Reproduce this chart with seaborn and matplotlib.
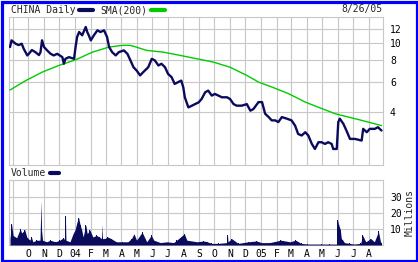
import numpy as np
import pandas as pd
import matplotlib
matplotlib.use("Agg")
import matplotlib.pyplot as plt
import matplotlib.ticker as mticker
from matplotlib.lines import Line2D
from matplotlib.patches import Rectangle
import seaborn as sns

# ---------------- data ----------------
price_dates = [
    "2003-08-26", "2003-08-29", "2003-09-06", "2003-09-12", "2003-09-18", "2003-09-22",
    "2003-09-29", "2003-10-02", "2003-10-08", "2003-10-15", "2003-10-22", "2003-10-25",
    "2003-10-28", "2003-11-01", "2003-11-07", "2003-11-14", "2003-11-20", "2003-11-27",
    "2003-12-07", "2003-12-10", "2003-12-13", "2003-12-20", "2003-12-30", "2004-01-02",
    "2004-01-05", "2004-01-09", "2004-01-15", "2004-01-22", "2004-01-25", "2004-01-28",
    "2004-02-01", "2004-02-07", "2004-02-14", "2004-02-20", "2004-02-27", "2004-03-04",
    "2004-03-08", "2004-03-14", "2004-03-21", "2004-03-27", "2004-04-06", "2004-04-13",
    "2004-04-19", "2004-04-25", "2004-05-01", "2004-05-08", "2004-05-14", "2004-05-24",
    "2004-05-31", "2004-06-06", "2004-06-13", "2004-06-19", "2004-06-26", "2004-07-02",
    "2004-07-09", "2004-07-15", "2004-07-22", "2004-07-28", "2004-08-01", "2004-08-04",
    "2004-08-11", "2004-08-18", "2004-08-24", "2004-08-31", "2004-09-06", "2004-09-13",
    "2004-09-19", "2004-09-26", "2004-10-02", "2004-10-09", "2004-10-16", "2004-10-26",
    "2004-11-01", "2004-11-08", "2004-11-14", "2004-11-24", "2004-12-04", "2004-12-11",
    "2004-12-17", "2004-12-27", "2005-01-03", "2005-01-09", "2005-01-16", "2005-01-22",
    "2005-01-29", "2005-02-04", "2005-02-11", "2005-02-21", "2005-03-02", "2005-03-09",
    "2005-03-15", "2005-03-22", "2005-03-29", "2005-04-04", "2005-04-11", "2005-04-17",
    "2005-04-24", "2005-04-30", "2005-05-07", "2005-05-13", "2005-05-20", "2005-05-23",
    "2005-05-30", "2005-06-02", "2005-06-05", "2005-06-12", "2005-06-18", "2005-06-25",
    "2005-07-05", "2005-07-18", "2005-07-21", "2005-07-28", "2005-08-03", "2005-08-13",
    "2005-08-19", "2005-08-26",
]
price_values = [
    9.46, 10.33, 9.88, 9.71, 9.88, 9.24,
    8.47, 8.65, 9.09, 8.84, 8.51, 8.84,
    10.33, 9.46, 9.05, 8.65, 8.47, 8.65,
    8.28, 7.59, 8.10, 8.28, 8.10, 9.46,
    10.79, 11.53, 11.04, 12.32, 11.53, 11.04,
    10.33, 11.04, 11.79, 11.53, 11.79, 10.79,
    9.46, 8.84, 8.47, 8.84, 9.05, 8.65,
    7.93, 7.25, 6.95, 6.51, 6.79, 7.25,
    8.10, 7.93, 7.42, 7.59, 7.25, 6.64,
    6.36, 5.82, 5.96, 6.08, 5.56, 4.88,
    4.27, 4.37, 4.46, 4.56, 4.77, 5.21,
    5.33, 4.99, 5.10, 4.99, 4.88, 4.88,
    4.77, 4.46, 4.37, 4.37, 4.46, 4.09,
    4.18, 4.58, 4.58, 3.93, 3.76, 3.60,
    3.60, 3.52, 3.76, 3.68, 3.60, 3.36,
    3.01, 2.95, 3.08, 2.95, 2.64, 2.47,
    2.70, 2.70, 2.64, 2.70, 2.64, 2.47,
    2.47, 3.52, 3.68, 3.44, 3.15, 2.82,
    2.82, 2.76, 3.22, 3.08, 3.22, 3.22,
    3.29, 3.15,
]

sma_dates = [
    "2003-08-26", "2003-09-26", "2003-10-28", "2003-11-30", "2004-01-02", "2004-02-04",
    "2004-03-08", "2004-04-03", "2004-04-18", "2004-04-26", "2004-05-21", "2004-06-23",
    "2004-07-26", "2004-08-28", "2004-09-29", "2004-11-01", "2004-12-04", "2004-12-27",
    "2005-01-22", "2005-02-24", "2005-03-29", "2005-05-01", "2005-05-27", "2005-06-22",
    "2005-07-18", "2005-08-13", "2005-08-26",
]
sma_values = [
    5.37, 6.08, 6.79, 7.42, 7.99, 8.84,
    9.46, 9.67, 9.67, 9.54, 9.05, 8.84,
    8.47, 8.10, 7.76, 7.25, 6.51, 5.96,
    5.59, 5.12, 4.58, 4.20, 3.93, 3.76,
    3.60, 3.44, 3.36,
]

vol_dates = [
    "2003-08-26", "2003-08-29", "2003-09-01", "2003-09-08", "2003-09-15", "2003-09-18",
    "2003-09-24", "2003-09-28", "2003-10-04", "2003-10-07", "2003-10-10", "2003-10-17",
    "2003-10-24", "2003-10-26", "2003-10-27", "2003-10-29", "2003-11-06", "2003-11-13",
    "2003-11-23", "2003-12-02", "2003-12-09", "2003-12-12", "2003-12-13", "2003-12-14",
    "2003-12-22", "2003-12-28", "2004-01-01", "2004-01-05", "2004-01-08", "2004-01-11",
    "2004-01-14", "2004-01-17", "2004-01-22", "2004-01-25", "2004-01-30", "2004-02-05",
    "2004-02-12", "2004-02-18", "2004-02-22", "2004-02-23", "2004-02-24", "2004-02-28",
    "2004-03-05", "2004-03-12", "2004-03-22", "2004-04-04", "2004-04-14", "2004-04-21",
    "2004-04-26", "2004-05-01", "2004-05-12", "2004-05-21", "2004-05-30", "2004-06-04",
    "2004-06-17", "2004-06-30", "2004-07-13", "2004-07-19", "2004-08-03", "2004-08-08",
    "2004-08-18", "2004-08-28", "2004-09-10", "2004-09-17", "2004-09-26", "2004-10-09",
    "2004-10-26", "2004-10-27", "2004-10-28", "2004-11-01", "2004-11-04", "2004-11-17",
    "2004-12-07", "2004-12-23", "2005-01-02", "2005-01-18", "2005-02-09", "2005-02-27",
    "2005-03-10", "2005-03-21", "2005-04-03", "2005-04-17", "2005-04-30", "2005-05-16",
    "2005-05-31", "2005-06-01", "2005-06-03", "2005-06-06", "2005-06-08", "2005-06-11",
    "2005-06-14", "2005-06-24", "2005-07-03", "2005-07-16", "2005-07-20", "2005-07-26",
    "2005-08-05", "2005-08-12", "2005-08-20", "2005-08-24", "2005-08-26",
]
vol_values = [
    4, 13, 6, 4.5, 10, 7.5,
    9.5, 5, 3, 5, 2, 3,
    3, 27.5, 9.5, 3, 2, 3,
    2, 3, 4.5, 3, 18, 3,
    2, 7, 9.5, 14.5, 17, 12.5,
    9.5, 5, 12.5, 7, 9.5, 5,
    6, 5, 4, 13, 4, 4,
    5, 4, 2, 2, 2, 4,
    7, 3, 8, 2, 6, 3,
    1.5, 2, 1.5, 3, 7, 3,
    2.5, 2, 2.5, 2, 1, 1,
    1.5, 6, 2, 3, 4, 1,
    2, 2.5, 1.5, 1.5, 3, 2,
    3, 1, 0.6, 0.6, 0.6, 0.6,
    0.6, 15.5, 12.5, 9.5, 4, 3,
    1.5, 1, 0.6, 1, 6, 2,
    4, 2, 8.5, 2, 1,
]

month_ticks = pd.date_range("2003-09-01", "2005-08-01", freq="MS")
month_labels = ["", "O", "N", "D", "04", "F", "M", "A", "M", "J", "J", "A",
                "S", "O", "N", "D", "05", "F", "M", "A", "M", "J", "J", "A"]
price_ticks = [4, 6, 8, 10, 12]
vol_ticks = [10, 20, 30]
x_range = ("2003-08-24", "2005-08-29")

# ---------------- style ----------------
sns.set_style("white")
plt.rcParams["font.family"] = ["DejaVu Sans Mono"]
plt.rcParams["font.size"] = 7

NAVY = "#0b0b5e"
GREEN = "#00cc00"
GRID = "#c8c8c8"
BLUE = "#0000ff"

W, H = 418, 262
fig = plt.figure(figsize=(W / 100, H / 100), dpi=100)
fig.patch.set_facecolor("white")

ax1 = fig.add_axes([9 / W, 1 - 165 / H, (383 - 9) / W, (165 - 17) / H])
ax2 = fig.add_axes([9 / W, 1 - 245 / H, (383 - 9) / W, (245 - 180) / H])

pdf = pd.DataFrame({"date": pd.to_datetime(price_dates), "price": price_values})
sdf = pd.DataFrame({"date": pd.to_datetime(sma_dates), "sma": sma_values})
vdf = pd.DataFrame({"date": pd.to_datetime(vol_dates), "vol": vol_values})

sns.lineplot(data=sdf, x="date", y="sma", ax=ax1, color=GREEN, linewidth=1.0, zorder=3)
sns.lineplot(data=pdf, x="date", y="price", ax=ax1, color=NAVY, linewidth=1.7, zorder=4)

ax2.fill_between(vdf["date"], vdf["vol"], 0, color=NAVY, linewidth=0, zorder=3)
ax2.bar(vdf["date"], vdf["vol"], width=1.5, color=NAVY, linewidth=0, zorder=3)

xmin, xmax = pd.to_datetime(x_range[0]), pd.to_datetime(x_range[1])
for ax in (ax1, ax2):
    ax.set_xlim(xmin, xmax)
    ax.set_xticks(month_ticks)
    ax.grid(True, color=GRID, linewidth=0.8, zorder=0)
    ax.set_axisbelow(True)
    for sp in ax.spines.values():
        sp.set_color(GRID)
        sp.set_linewidth(0.8)
    ax.set_xlabel("")
    ax.set_ylabel("")
    ax.yaxis.tick_right()
    ax.tick_params(axis="both", length=0, labelsize=7, colors="black")

ax1.set_yscale("log")
ax1.set_ylim(2.0, 14.05)
ax1.yaxis.set_major_locator(mticker.FixedLocator(price_ticks))
ax1.yaxis.set_major_formatter(mticker.FixedFormatter([str(t) for t in price_ticks]))
ax1.yaxis.set_minor_locator(mticker.NullLocator())
ax1.tick_params(axis="y", pad=5)
ax1.set_xticklabels([])

ax2.set_ylim(0, 40.6)
ax2.set_yticks(vol_ticks)
ax2.set_yticklabels([str(t) for t in vol_ticks])
ax2.tick_params(axis="y", pad=5)
ax2.set_xticklabels(month_labels)
ax2.tick_params(axis="x", pad=3)
ax2.yaxis.set_label_position("right")
ax2.set_ylabel("Millions", rotation=90, labelpad=2, fontsize=7)

# legends
h1 = [Line2D([0], [0], color=NAVY, lw=3), Line2D([0], [0], color=GREEN, lw=3)]
ax1.legend(h1, ["CHINA Daily", "SMA(200)"], loc="lower left", bbox_to_anchor=(0.0, 1.0),
           markerfirst=False, ncol=2, frameon=False, handlelength=1.45, handletextpad=0.35,
           columnspacing=0.8, borderaxespad=0.2, borderpad=0.0, fontsize=7)
ax2.legend([Line2D([0], [0], color=NAVY, lw=3)], ["Volume"], loc="lower left",
           bbox_to_anchor=(0.0, 1.0), markerfirst=False, frameon=False, handlelength=1.0,
           handletextpad=0.35, borderaxespad=0.2, borderpad=0.0, fontsize=7)

fig.text(383 / W, 1 - 9 / H, "8/26/05", ha="right", va="center", fontsize=7)

fig.patches.append(Rectangle((1.5 / W, 1.5 / H), (W - 3) / W, (H - 3) / H,
                             transform=fig.transFigure, fill=False,
                             edgecolor=BLUE, linewidth=2.3))

fig.savefig("out.png", dpi=100, facecolor="white")
